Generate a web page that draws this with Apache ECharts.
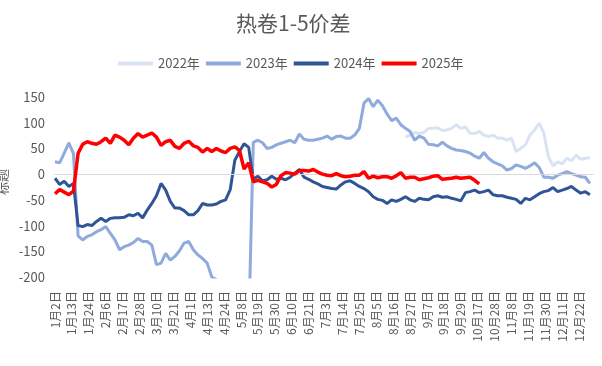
<!DOCTYPE html>
<html>
<head>
<meta charset="utf-8">
<script src="https://cdn.jsdelivr.net/npm/echarts@6/dist/echarts.min.js"></script>
<style>
html,body{margin:0;padding:0;background:#fff;}
#c{width:602px;height:366px;}
</style>
</head>
<body>
<div id="c"></div>
<script>
// ---- categories: calendar days (MM月DD日) with days that have no data in any year removed
const monthLengths = [31,29,31,30,31,30,31,31,30,31,30,31];
const skippedDays = ['1月1日','1月28日','1月29日','4月5日','5月1日','5月2日','5月3日','7月1日',
  '10月1日','10月2日','10月3日','10月4日','10月5日','10月6日','10月7日'];
const categories = [];
monthLengths.forEach(function (n, m) {
  for (let d = 1; d <= n; d++) {
    const s = (m + 1) + '月' + d + '日';
    if (skippedDays.indexOf(s) < 0) categories.push(s);
  }
});

// values read every 3rd category (category index = 3 * position)
const SAMPLE_STEP = 3;
const seriesNames = ['2022年','2023年','2024年','2025年'];

const y2022 = Array(76).fill(null).concat([
  72,76,81,79,81,89,89,90,85,86,
  89,96,89,92,79,79,83,76,73,76,
  70,70,66,70,44,50,57,76,86,99,
  80,34,16,24,20,31,26,37,29,31,
  32]);

const y2023 = [
  24,22,41,61,40,-120,-128,-121,-118,-112,
  -108,-102,-115,-128,-147,-141,-138,-133,-125,-131,
  -131,-138,-176,-173,-154,-167,-160,-149,-134,-131,
  -147,-157,-164,-173,-200,-205,-300,-300,-300,-300,
  -300,-300,-300,62,66,61,50,52,57,60,
  63,66,61,78,68,66,66,68,70,74,
  68,73,74,70,70,76,89,138,147,131,
  144,133,117,104,109,96,89,83,66,74,
  70,58,57,55,62,55,50,47,46,44,
  41,35,31,42,31,24,20,16,8,11,
  18,15,11,16,22,13,-6,-6,-8,-2,
  1,5,1,-2,-5,-6,-18];

const y2024 = [
  -8,-20,-14,-24,-18,-100,-102,-98,-100,-92,
  -86,-92,-86,-85,-85,-84,-79,-81,-76,-85,
  -70,-57,-42,-18,-31,-53,-66,-66,-71,-79,
  -79,-71,-57,-60,-60,-58,-53,-50,-30,27,
  44,59,52,-10,-4,-13,-11,-4,-10,-8,
  -11,-6,2,9,-6,-10,-15,-19,-24,-26,
  -28,-29,-21,-15,-13,-18,-24,-28,-34,-44,
  -49,-51,-57,-50,-53,-49,-44,-50,-53,-47,
  -49,-50,-44,-42,-45,-44,-47,-49,-52,-36,
  -34,-31,-36,-34,-31,-40,-42,-42,-45,-47,
  -49,-57,-47,-50,-44,-38,-34,-32,-26,-34,
  -31,-28,-24,-31,-37,-34,-40];

const y2025 = [
  -38,-30,-35,-40,-33,40,58,63,60,58,
  63,70,60,76,72,66,57,70,79,72,
  76,80,72,56,63,66,54,50,60,64,
  55,52,43,50,44,50,45,42,50,53,
  46,10,22,-15,-12,-15,-18,-25,-20,-3,
  3,2,0,7,7,6,9,4,0,-2,
  -3,1,-3,-5,-4,-2,-2,5,-8,-4,
  -7,-5,-5,-8,-3,3,-8,-6,-6,-11,
  -9,-7,-4,-3,-10,-9,-8,-6,-8,-7,
  -6,-12,-19];

const yTicks = {min: -200, max: 150, step: 50};
const colors = ['#DAE3F3','#8FAADC','#2F5597','#FF0000'];

function expand(arr) {
  const full = new Array(categories.length).fill(null);
  arr.forEach(function (v, i) {
    const k = i * SAMPLE_STEP;
    if (k < full.length) full[k] = v;
  });
  return full;
}

const chart = echarts.init(document.getElementById('c'), null, {renderer: 'canvas'});
const txt = '#595959';
const font = '"Noto Sans CJK SC", "Liberation Sans", sans-serif';
const allData = [y2022, y2023, y2024, y2025];

chart.setOption({
  animation: false,
  backgroundColor: '#ffffff',
  title: {
    text: '热卷1-5价差', left: 231, top: 8,
    textStyle: {fontSize: 21, color: txt, fontWeight: 'normal', fontFamily: font}
  },
  legend: {
    data: seriesNames, left: 113, top: 52,
    icon: 'rect', itemWidth: 35, itemHeight: 4, itemGap: 6,
    textStyle: {fontSize: 13, color: txt, fontFamily: font}
  },
  graphic: [{
    type: 'text', x: 2, y: 182, rotation: Math.PI / 2,
    style: {text: '标题', fill: txt, font: '13px ' + font, align: 'center', verticalAlign: 'middle'}
  }],
  grid: {left: 55, right: 9, top: 97, bottom: 89, containLabel: false, outerBoundsMode: 'none'},
  xAxis: {
    type: 'category', data: categories, boundaryGap: false, offset: 12,
    axisLine: {show: true, lineStyle: {color: '#bfbfbf', width: 1, type: [11, 6]}},
    axisTick: {show: false},
    splitLine: {show: false},
    axisLabel: {interval: 10, rotate: 90, fontSize: 12, color: txt, margin: 2, fontFamily: font}
  },
  yAxis: {
    type: 'value', min: yTicks.min, max: yTicks.max, interval: yTicks.step,
    axisLine: {show: false}, axisTick: {show: false}, splitLine: {show: false},
    axisLabel: {fontSize: 13, color: txt, margin: 10, fontFamily: font}
  },
  series: seriesNames.map(function (n, k) {
    const s = {
      name: n, type: 'line', data: expand(allData[k]),
      showSymbol: false, symbol: 'none', connectNulls: true, clip: true,
      color: colors[k],
      lineStyle: {color: colors[k], width: k === 3 ? 3.5 : 3},
      z: 2 + k
    };
    if (k === 0) {
      s.markLine = {
        silent: true, symbol: 'none', label: {show: false},
        lineStyle: {color: '#d9d9d9', width: 1, type: 'solid'},
        data: [{yAxis: 0}]
      };
    }
    return s;
  })
});
</script>
</body>
</html>
